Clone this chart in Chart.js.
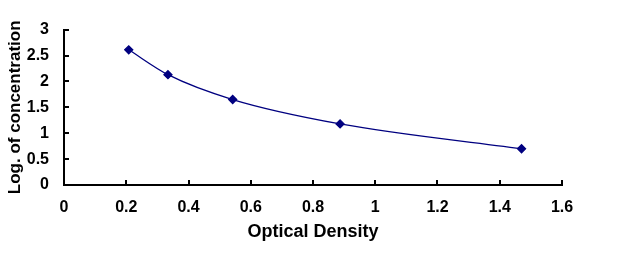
<!DOCTYPE html>
<html>
<head>
<meta charset="utf-8">
<script src="https://cdn.jsdelivr.net/npm/chart.js@4/dist/chart.umd.min.js"></script>
<style>
html,body{margin:0;padding:0;background:#fff;}
#wrap{width:642px;height:262px;}
</style>
</head>
<body>
<div id="wrap"><canvas id="c" width="642" height="262"></canvas></div>
<script>
const opticalDensity = [0.208, 0.334, 0.542, 0.887, 1.470];
const logConcentration = [2.61, 2.13, 1.65, 1.18, 0.70];
const xTickRange = [0, 1.6, 0.2];
const yTickRange = [0, 3, 0.5];
const xTitle = 'Optical Density';
const yTitle = 'Log. of concentration';

const points = opticalDensity.map((x, i) => ({x: x, y: logConcentration[i]}));
const FONT = '"Liberation Sans", Arial, sans-serif';
const fmt = v => String(Math.round(v * 10) / 10);

new Chart(document.getElementById('c'), {
  type: 'line',
  data: {
    datasets: [{
      data: points,
      borderColor: '#000080',
      backgroundColor: '#000080',
      borderWidth: 1.3,
      pointStyle: 'rectRot',
      pointRadius: 4,
      pointHoverRadius: 4,
      cubicInterpolationMode: 'monotone',
      fill: false
    }]
  },
  options: {
    responsive: false,
    animation: false,
    layout: {padding: {left: 0, right: 80, top: 12, bottom: 0}},
    plugins: {legend: {display: false}, tooltip: {enabled: false}},
    scales: {
      x: {
        type: 'linear',
        min: xTickRange[0], max: xTickRange[1],
        afterFit: s => { s.height = 77; },
        ticks: {stepSize: xTickRange[2], color: '#000', padding: 18, callback: fmt,
                font: {family: FONT, size: 16, weight: 'bold'}},
        grid: {display: true, drawOnChartArea: false, drawTicks: true, tickLength: -5, color: '#000', lineWidth: 2},
        border: {display: true, color: '#000', width: 2},
        title: {display: true, text: xTitle, color: '#000', padding: {top: 0, bottom: 19},
                font: {family: FONT, size: 18, weight: 'bold'}}
      },
      y: {
        min: yTickRange[0], max: yTickRange[1],
        afterFit: s => { s.width = 64; },
        ticks: {stepSize: yTickRange[2], color: '#000', padding: 20, callback: fmt,
                font: {family: FONT, size: 16, weight: 'bold'}},
        grid: {display: true, drawOnChartArea: false, drawTicks: true, tickLength: -5, color: '#000', lineWidth: 2},
        border: {display: true, color: '#000', width: 2},
        title: {display: true, text: yTitle, color: '#000', padding: {top: 5, bottom: 0},
                font: {family: FONT, size: 17, weight: 'bold'}}
      }
    }
  }
});
</script>
</body>
</html>
